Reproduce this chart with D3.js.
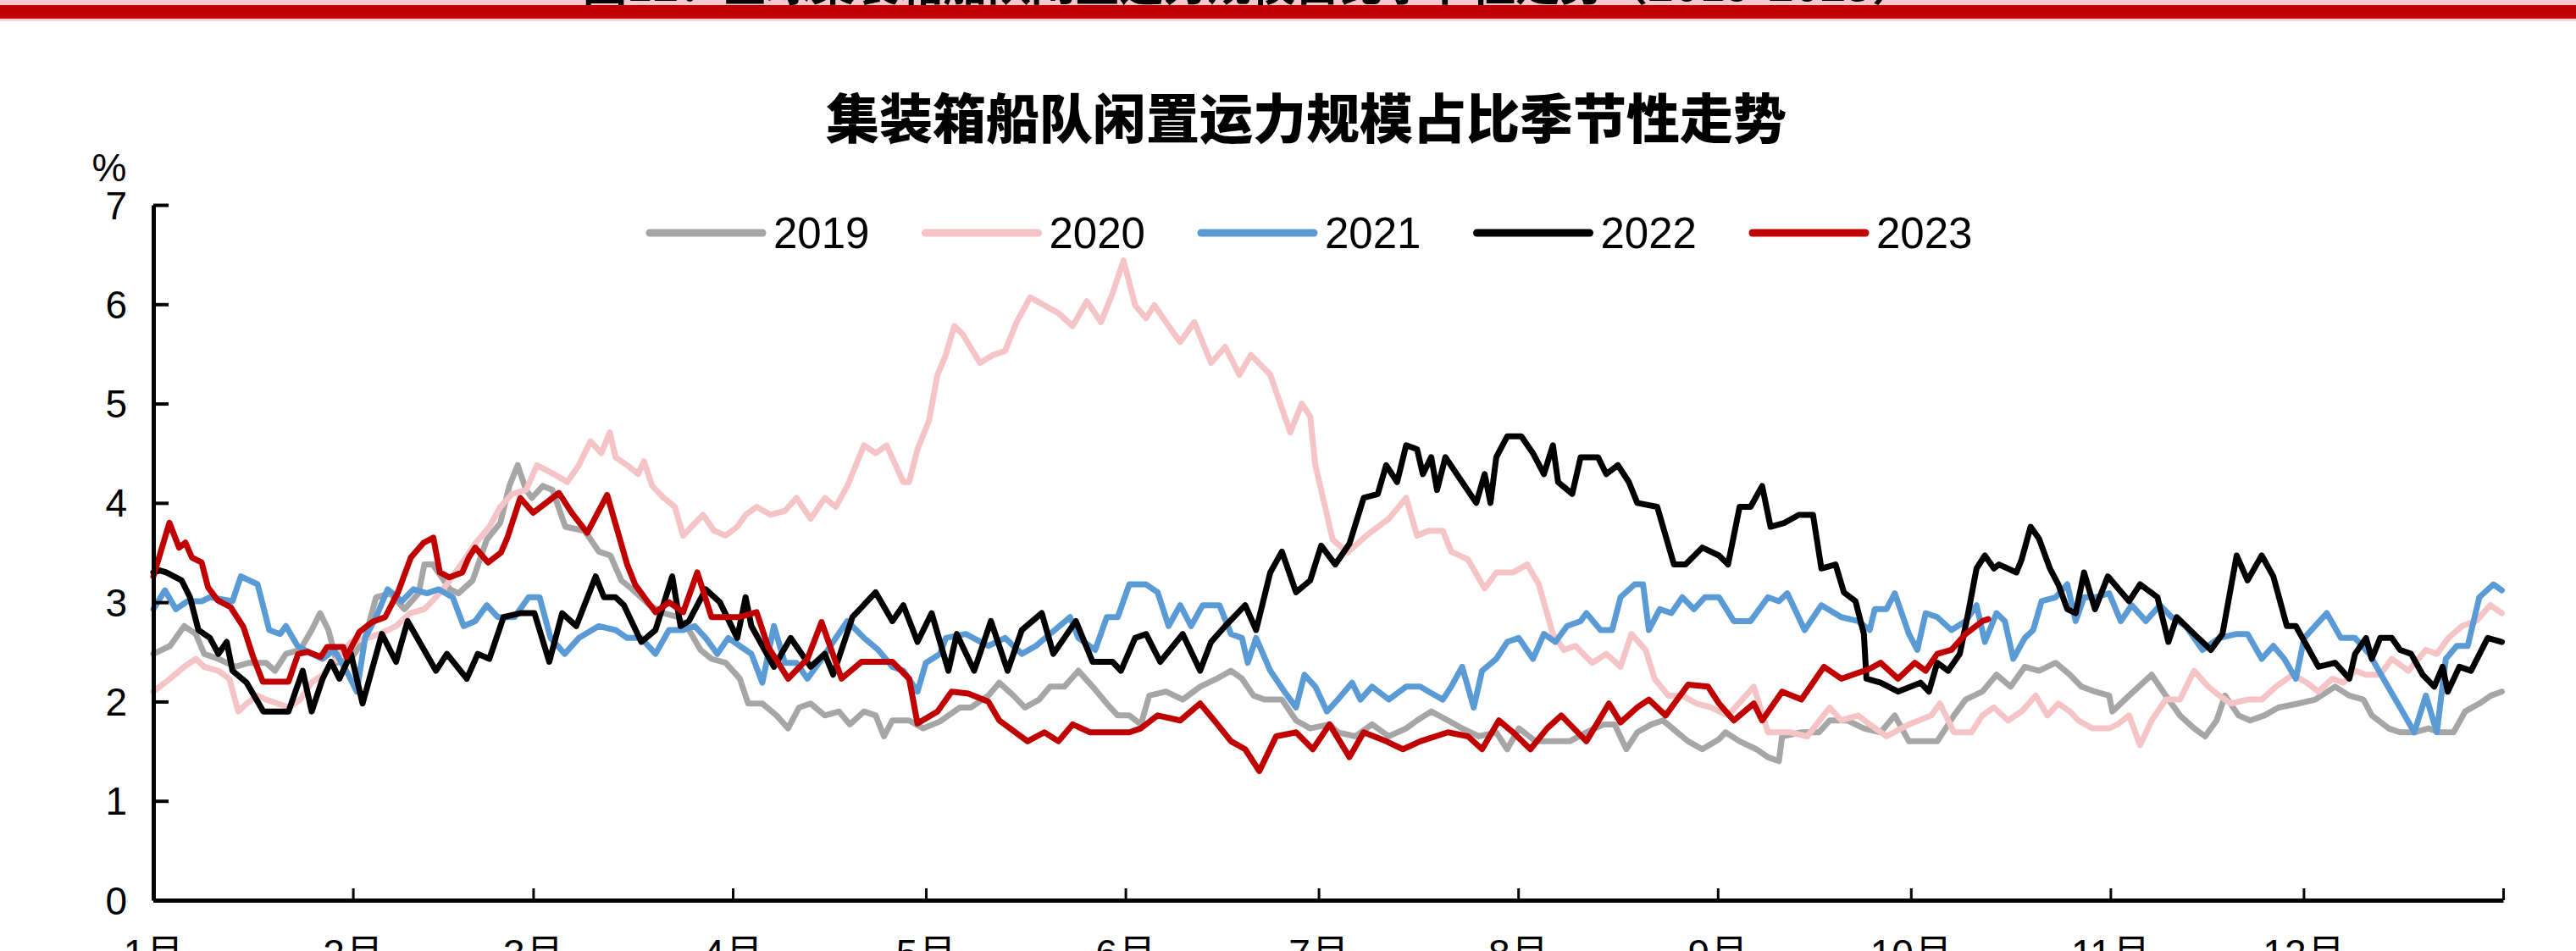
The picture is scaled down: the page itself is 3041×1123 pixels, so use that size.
<!DOCTYPE html>
<html>
<head>
<meta charset="utf-8">
<script src="https://cdn.jsdelivr.net/npm/d3@7"></script>
<style>
  html, body { margin: 0; padding: 0; background: #fff; }
  svg { display: block; }
  text { font-family: "Liberation Sans", Arial, "Noto Sans CJK SC", sans-serif; fill: #000; }
</style>
</head>
<body>
<svg id="chart" width="3041" height="1123"></svg>
<script>
// Idle capacity share of the container fleet (%), by day of year.
const years = ["2019", "2020", "2021", "2022", "2023"];
const colors = ["#A6A6A6", "#F4C4C6", "#5B9BD5", "#000000", "#C00000"];
const monthStarts = [0, 31, 59, 90, 120, 151, 181, 212, 243, 273, 304, 334, 365];
const monthLabels = ["1月", "2月", "3月", "4月", "5月", "6月", "7月", "8月", "9月", "10月", "11月", "12月", ""];
const yTicks = [0, 1, 2, 3, 4, 5, 6, 7];
const chartTitle = "集装箱船队闲置运力规模占比季节性走势";
const headerText = "图12：全球集装箱船队闲置运力规模占比季节性走势（2019-2023）";

// [day of year, %]
const s2019 = [[0,2.48],[2.6,2.56],[4.8,2.76],[6.6,2.68],[7.9,2.48],[10.1,2.43],[12.7,2.35],[14.9,2.39],[17.5,2.39],[18.9,2.31],[20.6,2.48],[22.8,2.52],[24.6,2.72],[25.9,2.89],[27.2,2.72],[28.5,2.39],[30.7,2.43],[32.9,2.64],[34.6,3.05],[36.8,3.09],[39,2.93],[41.2,3.09],[42.1,3.38],[43.4,3.38],[46.1,3.13],[47.4,3.09],[49.6,3.22],[51.8,3.63],[53.9,3.8],[55.3,4.17],[56.6,4.38],[57.9,4.13],[58.8,4.05],[60.5,4.17],[62,4.13],[64,3.76],[67,3.72],[69.2,3.51],[71,3.47],[72.7,3.22],[74.4,3.13],[77.1,2.97],[79.3,2.89],[81.5,2.85],[83.2,2.72],[85,2.52],[86.7,2.43],[88.9,2.39],[91.1,2.23],[92.4,1.98],[94.6,1.98],[96.8,1.86],[98.6,1.73],[100.3,1.94],[102.1,1.98],[104.3,1.86],[106.5,1.9],[108.2,1.77],[110.4,1.9],[112.2,1.86],[113.5,1.65],[114.8,1.81],[117.4,1.81],[119.6,1.73],[122.2,1.8],[123.5,1.86],[125.3,1.94],[127,1.94],[129.7,2.06],[131.4,2.19],[133.6,2.06],[135.4,1.94],[137.6,2.02],[139.3,2.15],[141.5,2.15],[143.7,2.31],[145.9,2.15],[148.1,1.98],[149.8,1.86],[151.6,1.86],[153.4,1.77],[154.7,2.06],[157.3,2.1],[159.9,2.02],[162.6,2.15],[165.2,2.23],[167.4,2.31],[169.1,2.23],[170.9,2.06],[172.6,2.02],[175.3,2.02],[177.5,1.81],[179.7,1.73],[182.7,1.77],[184,1.69],[186.7,1.65],[189.3,1.77],[191.9,1.65],[194.6,1.73],[196.3,1.81],[198.5,1.9],[201.1,1.81],[203.3,1.73],[205.9,1.65],[208.6,1.69],[210.3,1.52],[212.1,1.73],[214.7,1.6],[220,1.6],[222.6,1.69],[225.3,1.77],[227,1.77],[228.8,1.52],[230.5,1.69],[232.7,1.77],[234.5,1.81],[236.7,1.69],[238.4,1.6],[240.6,1.52],[243.2,1.62],[244.2,1.69],[246.4,1.6],[249,1.52],[250.8,1.44],[252.5,1.4],[253,1.65],[256,1.69],[258.7,1.69],[260.4,1.81],[263.1,1.81],[265.7,1.73],[268.3,1.69],[270.5,1.86],[272.7,1.6],[277.1,1.6],[279.7,1.86],[281.5,2.02],[284.1,2.1],[286.3,2.27],[288.5,2.15],[290.7,2.35],[292.9,2.31],[295.5,2.39],[297.7,2.27],[299.5,2.15],[301.6,2.1],[303.8,2.06],[304.3,1.9],[306.9,2.06],[310.4,2.27],[312.6,2.06],[314.8,1.86],[317,1.73],[318.7,1.65],[320.5,1.81],[321.8,2.06],[323.9,1.86],[325.7,1.81],[327.9,1.86],[330.1,1.94],[333.2,1.98],[335.8,2.02],[338.9,2.15],[341.1,2.06],[343.3,2.02],[344.6,1.86],[347.2,1.73],[349,1.69],[351.2,1.69],[353.4,1.73],[355.1,1.69],[357.3,1.69],[359.1,1.9],[361.3,1.98],[363.1,2.06],[364.8,2.1]];

const s2020 = [[0,2.1],[2.6,2.23],[4.8,2.35],[6.6,2.43],[7.9,2.35],[10.1,2.31],[11.8,2.23],[13.2,1.9],[14.5,1.98],[16.2,2.06],[17.5,2.02],[19.3,1.98],[21.1,1.94],[22.8,2.02],[24.6,2.19],[26.3,2.27],[28.5,2.43],[30.7,2.6],[33.3,2.64],[35.1,2.68],[37.7,2.76],[39.9,2.89],[42.1,2.93],[43.9,3.05],[45.6,3.18],[47.8,3.38],[50,3.59],[52.2,3.76],[53.9,3.96],[55.7,4.09],[57.9,4.13],[59.6,4.38],[62.2,4.29],[64.3,4.21],[66.1,4.38],[67.9,4.62],[69.6,4.5],[70.9,4.71],[71.8,4.46],[73.6,4.38],[75.3,4.29],[76.2,4.42],[77.5,4.17],[79.3,4.05],[81,3.96],[82.3,3.67],[83.6,3.76],[85.4,3.88],[87.1,3.72],[88.9,3.67],[90.7,3.76],[92,3.88],[93.7,3.96],[95.9,3.88],[98.1,3.92],[99.9,4.05],[102.1,3.84],[104.3,4.05],[106,3.96],[107.8,4.17],[110.4,4.58],[112.2,4.5],[113.9,4.58],[116.5,4.21],[117.4,4.21],[118.7,4.54],[120.5,4.83],[121.8,5.29],[123.1,5.49],[124.4,5.78],[125.7,5.7],[128.4,5.41],[130.5,5.49],[132.3,5.53],[134.1,5.82],[136.2,6.07],[138.4,5.99],[140.6,5.91],[142.8,5.78],[145,6.03],[147.2,5.82],[149,6.11],[150.7,6.44],[152.5,5.99],[154.2,5.86],[155.5,5.99],[157.3,5.82],[159.5,5.62],[161.7,5.82],[164.3,5.41],[166.5,5.57],[168.7,5.29],[170.5,5.49],[173.5,5.29],[176.6,4.71],[178.4,5.0],[179.7,4.87],[180.5,4.38],[182.3,3.88],[183.2,3.63],[185.5,3.5],[188.4,3.67],[191.9,3.84],[194.6,4.05],[196.3,3.67],[198.1,3.72],[200.3,3.72],[201.6,3.51],[204.2,3.43],[206.8,3.14],[208.6,3.3],[211.2,3.3],[213.4,3.38],[215.2,3.18],[217.4,2.68],[219.1,2.52],[220.9,2.56],[223.5,2.39],[225.7,2.48],[227.9,2.35],[229.6,2.68],[231.8,2.52],[233.2,2.23],[235.3,2.06],[237.5,2.06],[239.7,1.98],[242,1.94],[244.6,1.86],[248.6,2.15],[250.8,1.69],[254.3,1.69],[256.9,1.65],[260.4,1.94],[262.2,1.81],[264.8,1.86],[266.6,1.77],[269.2,1.65],[272.7,1.77],[276.2,1.86],[277.5,1.98],[279.7,1.69],[282.4,1.69],[284.1,1.86],[285.9,1.94],[288.1,1.81],[290.2,1.9],[292.4,2.06],[294.2,1.86],[295.9,1.98],[297.7,1.9],[299,1.81],[301.2,1.73],[303.8,1.73],[305.1,1.77],[306.9,1.86],[308.6,1.56],[310.4,1.81],[312.6,2.02],[314.8,2.02],[317,2.31],[319.2,2.15],[320.9,2.06],[322.7,1.98],[325.3,2.02],[327.5,2.02],[329.7,2.15],[332.3,2.27],[334.5,2.19],[336.3,2.1],[338.5,2.23],[340.2,2.19],[342,2.31],[343.7,2.27],[345.9,2.27],[347.7,2.43],[350.3,2.31],[353,2.52],[354.7,2.48],[356.5,2.64],[358.6,2.76],[360.8,2.81],[363,2.97],[364.8,2.89]];

const s2021 = [[0,2.93],[1.8,3.12],[3.5,2.93],[5.3,3.01],[7.5,3.01],[8.8,3.05],[12.3,3.01],[13.6,3.26],[16.2,3.18],[18,2.72],[19.7,2.68],[20.6,2.76],[22.4,2.56],[24.6,2.48],[26.3,2.43],[28.1,2.52],[30.3,2.27],[31.6,2.1],[32.9,2.64],[34.6,2.85],[36.4,3.13],[38.6,3.01],[40.4,3.13],[42.5,3.09],[44.3,3.13],[46.5,3.05],[48.2,2.76],[50,2.81],[51.8,2.97],[53.5,2.85],[56.1,2.85],[58.3,3.05],[60,3.05],[61.7,2.64],[63.9,2.48],[66.1,2.64],[69.2,2.76],[71.8,2.72],[73.6,2.64],[75.8,2.64],[78,2.48],[80.1,2.72],[82.3,2.72],[84.1,2.76],[85.8,2.64],[87.6,2.48],[89.3,2.64],[91.1,2.56],[92.9,2.48],[94.6,2.19],[96.4,2.76],[98.1,2.39],[99.9,2.39],[101.6,2.23],[103.4,2.39],[105.6,2.6],[107.8,2.81],[110.4,2.64],[112.6,2.52],[114.8,2.35],[116.5,2.31],[118.7,2.1],[120,2.39],[122.2,2.48],[123.1,2.64],[126.2,2.68],[129.7,2.56],[132.3,2.64],[134.9,2.48],[137.1,2.56],[139.3,2.68],[142.4,2.85],[143.7,2.64],[146.3,2.52],[148.1,2.85],[149.8,2.85],[151.6,3.18],[154.2,3.18],[156,3.1],[157.7,2.76],[159.5,2.97],[161.2,2.76],[163,2.97],[165.6,2.97],[167.4,2.68],[169.1,2.64],[170,2.39],[171.3,2.64],[173.5,2.31],[175.7,2.1],[177.5,1.94],[178.8,2.27],[180.5,2.15],[182.3,1.9],[184,2.02],[186.2,2.19],[187.5,2.02],[189.3,2.15],[191.9,2.02],[194.6,2.15],[196.8,2.15],[198.1,2.1],[200.3,2.02],[201.6,2.15],[203.3,2.35],[205.1,1.94],[206.4,2.31],[208.6,2.43],[210.3,2.6],[212.1,2.64],[214.3,2.43],[216,2.68],[217.8,2.6],[219.6,2.76],[221.7,2.81],[222.6,2.89],[224.8,2.72],[226.6,2.72],[227.9,3.05],[230.1,3.18],[231.4,3.18],[232.3,2.72],[234,2.93],[235.8,2.89],[237.5,3.05],[239.3,2.93],[241,3.05],[243.2,3.05],[245.5,2.81],[248.1,2.81],[250.8,3.05],[252.5,3.01],[253.8,3.09],[256.5,2.72],[259.1,2.97],[262.2,2.85],[264.8,2.81],[266.6,2.72],[267.4,2.93],[269.2,2.93],[270.5,3.09],[272.7,2.68],[274,2.52],[275.3,2.89],[277.1,2.85],[279.3,2.72],[281.5,2.81],[283.2,2.97],[284.5,2.6],[286.3,2.89],[287.6,2.81],[288.9,2.43],[290.7,2.64],[292,2.72],[293.3,3.01],[295.5,3.05],[297.3,3.18],[298.6,2.81],[299.9,3.05],[301.6,3.05],[303.8,3.09],[305.6,2.81],[307.3,2.97],[309.5,2.81],[311.7,2.97],[313.5,2.85],[315.7,2.76],[318.3,2.52],[320.9,2.64],[323.6,2.68],[325.3,2.68],[327.5,2.43],[329.3,2.56],[331,2.43],[332.8,2.23],[334.1,2.64],[337.6,2.89],[339.8,2.64],[342,2.64],[344.2,2.48],[346.4,2.23],[349,1.94],[351.2,1.69],[353,2.06],[354.7,1.69],[356.1,2.43],[357.8,2.56],[359.5,2.56],[361.3,3.05],[363.5,3.18],[364.8,3.12]];

const s2022 = [[0,3.3],[1,3.32],[2,3.3],[4.4,3.22],[5.7,3.05],[7,2.72],[8.8,2.64],[10.1,2.48],[11.4,2.6],[12.3,2.31],[14.5,2.19],[17.1,1.9],[21,1.9],[23.2,2.31],[24.6,1.9],[26.3,2.23],[27.6,2.4],[28.9,2.23],[30.7,2.48],[32.5,1.98],[35.5,2.68],[37.7,2.4],[39.5,2.81],[43.9,2.31],[45.6,2.48],[48.7,2.23],[50.4,2.48],[52.2,2.43],[54.4,2.85],[57,2.89],[59.2,2.89],[61.5,2.4],[63.5,2.89],[65.7,2.76],[68.7,3.26],[70,3.05],[71.8,3.05],[73.1,2.97],[75.8,2.6],[78,2.72],[80.6,3.26],[81.9,2.76],[83.2,2.81],[85.8,3.13],[88,3.0],[90.7,2.64],[92,3.05],[92.9,2.76],[96.4,2.35],[99,2.64],[102.1,2.35],[104.3,2.48],[105.6,2.27],[108.6,2.85],[112.2,3.1],[114.8,2.81],[116.5,2.97],[118.7,2.6],[120.9,2.89],[123.5,2.31],[124.8,2.68],[127.5,2.31],[130.1,2.81],[132.7,2.31],[134.9,2.72],[138,2.89],[139.8,2.48],[143.3,2.81],[145.9,2.4],[149,2.4],[150.3,2.31],[152.5,2.64],[154.2,2.68],[156.4,2.4],[159.9,2.68],[162.6,2.31],[164.3,2.6],[166.5,2.76],[169.6,2.97],[171.3,2.72],[173.5,3.3],[175.3,3.51],[177.5,3.1],[179.7,3.22],[181.4,3.57],[183.6,3.38],[185.8,3.59],[188,4.05],[190.2,4.09],[191.5,4.38],[193.2,4.21],[194.6,4.58],[196.3,4.54],[197.2,4.29],[198.5,4.46],[199.4,4.13],[200.7,4.46],[203.3,4.21],[205.5,4.0],[206.8,4.29],[207.7,4.0],[208.6,4.46],[210.3,4.67],[212.5,4.67],[214.3,4.5],[216,4.29],[217.4,4.58],[218.2,4.21],[220.4,4.09],[221.7,4.46],[224.4,4.46],[225.7,4.29],[227.5,4.38],[229.2,4.21],[230.5,4.0],[233.6,3.96],[236.2,3.38],[238,3.38],[240.6,3.55],[243.2,3.47],[244.6,3.38],[246.4,3.96],[248.1,3.96],[249.9,4.17],[251.2,3.76],[253.4,3.8],[255.6,3.88],[257.8,3.88],[259.1,3.34],[261.3,3.38],[262.6,3.1],[264.4,3.01],[265.7,2.68],[266.1,2.23],[268.3,2.19],[271,2.1],[274.5,2.19],[275.8,2.1],[277.1,2.39],[278.8,2.31],[280.6,2.48],[281.9,2.89],[283.2,3.34],[284.5,3.47],[285.9,3.34],[286.7,3.38],[289.4,3.3],[290.2,3.43],[291.6,3.76],[292.9,3.64],[294.6,3.34],[295.9,3.18],[297.3,2.93],[298.6,2.89],[299.9,3.3],[301.6,2.93],[303.6,3.26],[306.9,3.01],[308.6,3.18],[311.3,3.05],[313,2.6],[314.3,2.85],[317,2.68],[319.6,2.52],[321.4,2.68],[323.6,3.47],[325.3,3.22],[327.5,3.47],[329.3,3.26],[331.4,2.76],[332.8,2.76],[336.3,2.35],[338.9,2.39],[341.1,2.23],[342,2.48],[343.7,2.64],[344.6,2.43],[345.9,2.64],[347.7,2.64],[349,2.52],[350.7,2.48],[352.5,2.27],[354.3,2.15],[355.6,2.35],[356.4,2.1],[358.2,2.35],[360,2.31],[362.6,2.64],[364.8,2.6]];

const s2023 = [[0,3.26],[2.5,3.8],[4,3.55],[5,3.6],[6,3.45],[7.5,3.4],[8.5,3.15],[10,3.02],[12,2.95],[14,2.75],[15.5,2.45],[17,2.2],[21,2.2],[22.5,2.48],[24,2.5],[26,2.45],[27,2.55],[29.5,2.55],[30,2.45],[32,2.7],[34,2.8],[36,2.85],[38,3.1],[40,3.45],[42,3.6],[43.5,3.65],[44.5,3.3],[46,3.25],[48,3.3],[49,3.45],[50,3.55],[52,3.4],[54,3.5],[55,3.65],[57,4.05],[59,3.9],[61,4.0],[63,4.1],[65,3.9],[67.4,3.7],[70.5,4.08],[73.6,3.38],[74.9,3.17],[78,2.9],[80.1,3.0],[82.3,2.9],[84.5,3.3],[86.7,2.85],[91,2.85],[93.7,2.9],[95.5,2.55],[98.6,2.23],[101.6,2.43],[103.8,2.8],[106.9,2.23],[110,2.4],[114.8,2.4],[117.4,2.23],[118.7,1.78],[121.8,1.9],[124,2.1],[126.6,2.08],[129.7,2.0],[131.4,1.81],[135.8,1.6],[138.4,1.69],[140.6,1.6],[142.8,1.77],[145.5,1.69],[151.6,1.69],[153.4,1.73],[156,1.86],[159.5,1.81],[162.6,1.98],[164.8,1.81],[167.4,1.6],[169.6,1.52],[171.8,1.3],[174.4,1.65],[177.5,1.69],[180.1,1.52],[182.7,1.77],[185.8,1.44],[188,1.69],[191.5,1.6],[194.1,1.52],[196.8,1.6],[201.1,1.69],[204.2,1.65],[206.4,1.52],[209,1.81],[211.2,1.69],[213.9,1.52],[216.5,1.73],[218.7,1.86],[222.6,1.6],[226.1,1.98],[227.9,1.79],[230.5,1.94],[232.3,2.02],[234.9,1.86],[238.4,2.17],[241.5,2.15],[243.2,1.98],[245.5,1.81],[248.6,1.98],[249.9,1.81],[253,2.1],[256,2.02],[259.5,2.35],[262.2,2.23],[266.6,2.33],[268.3,2.39],[271,2.23],[273.6,2.39],[275.3,2.31],[277.1,2.48],[279.3,2.52],[281.5,2.68],[284.1,2.81],[285,2.83]];

const seriesData = [s2019, s2020, s2021, s2022, s2023];

const svg = d3.select("#chart");
const W = 3041, H = 1123;
const margin = { left: 181, right: 86, top: 242, bottom: 60 };

const x = d3.scaleLinear().domain([0, 365]).range([margin.left, W - margin.right]);
const y = d3.scaleLinear().domain([0, 7]).range([H - margin.bottom, margin.top]);

svg.append("rect").attr("width", W).attr("height", H).attr("fill", "#fff");

// Header band with the figure caption running off the top edge
svg.append("rect").attr("x", 0).attr("y", 0).attr("width", W).attr("height", 7).attr("fill", "#F3C9CD");
svg.append("rect").attr("x", 0).attr("y", 6).attr("width", W).attr("height", 16).attr("fill", "#C00000");
svg.append("rect").attr("x", 0).attr("y", 22).attr("width", W).attr("height", 3).attr("fill", "#F6D3D5");
svg.append("clipPath").attr("id", "hdrclip")
  .append("rect").attr("x", 0).attr("y", 0).attr("width", W).attr("height", 7);
svg.append("text")
  .attr("clip-path", "url(#hdrclip)")
  .attr("x", 1475).attr("y", 1)
  .attr("text-anchor", "middle")
  .style("font-family", "'Noto Sans CJK SC', sans-serif")
  .style("font-weight", 700)
  .style("font-size", "52px")
  .text(headerText);

// Title
svg.append("text")
  .attr("x", 1542).attr("y", 163)
  .attr("text-anchor", "middle")
  .style("font-family", "'Noto Sans CJK SC', sans-serif")
  .style("font-weight", 900)
  .style("font-size", "63px")
  .text(chartTitle);

// Unit label
svg.append("text")
  .attr("x", 129).attr("y", 214)
  .attr("text-anchor", "middle")
  .style("font-size", "46px")
  .text("%");

// Series lines
const line = d3.line()
  .x(d => x(d[0]))
  .y(d => y(d[1]))
  .curve(d3.curveLinear);

const gLines = svg.append("g");
seriesData.forEach((data, i) => {
  gLines.append("path")
    .datum(data)
    .attr("fill", "none")
    .attr("stroke", colors[i])
    .attr("stroke-width", 7)
    .attr("stroke-linejoin", "round")
    .attr("stroke-linecap", "round")
    .attr("d", line);
});

// Y axis (ticks point into the plot)
const yAxis = d3.axisLeft(y)
  .tickValues(yTicks)
  .tickFormat(d3.format("d"))
  .tickSizeInner(-18)
  .tickSizeOuter(0)
  .tickPadding(31);
const gy = svg.append("g").attr("transform", `translate(${margin.left},0)`).call(yAxis);
gy.select(".domain").attr("stroke", "#000").attr("stroke-width", 5);
gy.selectAll(".tick line").attr("stroke", "#000").attr("stroke-width", 4);
gy.selectAll(".tick text")
  .attr("dy", "0.35em")
  .style("font-family", "'Liberation Sans', Arial, sans-serif")
  .style("font-size", "46px")
  .attr("fill", "#000");

// X axis: month boundaries, ticks pointing up
const xAxis = d3.axisBottom(x)
  .tickValues(monthStarts)
  .tickFormat((d, i) => monthLabels[i])
  .tickSizeInner(-14)
  .tickSizeOuter(0);
const gx = svg.append("g").attr("transform", `translate(0,${y(0)})`).call(xAxis);
gx.select(".domain").attr("stroke", "#000").attr("stroke-width", 5);
gx.selectAll(".tick line").attr("stroke", "#000").attr("stroke-width", 3);
gx.selectAll(".tick text")
  .attr("y", 79).attr("dy", "0")
  .style("font-family", "'Liberation Sans', Arial, 'Noto Sans CJK SC', sans-serif")
  .style("font-size", "46px")
  .attr("fill", "#000");

// Legend
const legendX0 = 767, legendStep = 325.5, legendY = 275, legendLen = 133;
const gLeg = svg.append("g");
years.forEach((yr, i) => {
  const lx = legendX0 + i * legendStep;
  gLeg.append("line")
    .attr("x1", lx).attr("x2", lx + legendLen)
    .attr("y1", legendY).attr("y2", legendY)
    .attr("stroke", colors[i])
    .attr("stroke-width", 9)
    .attr("stroke-linecap", "round");
  gLeg.append("text")
    .attr("x", lx + legendLen + 13)
    .attr("y", legendY + 18)
    .style("font-size", "51px")
    .text(yr);
});
</script>
</body>
</html>
